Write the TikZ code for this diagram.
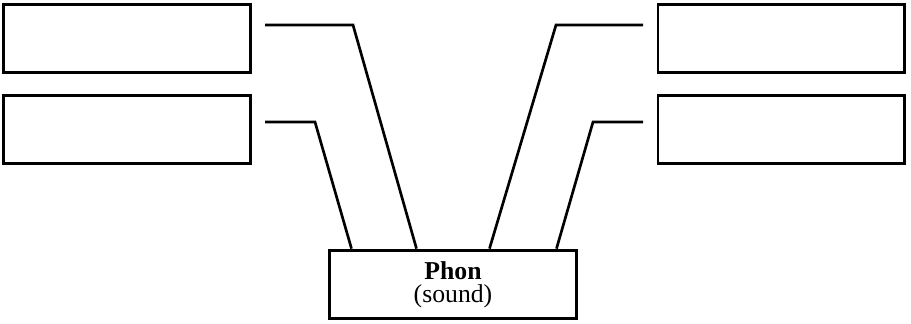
\documentclass[tikz,border=0pt]{standalone}
\usepackage{fontspec}
\setmainfont{Liberation Serif}
\usetikzlibrary{calc}
\begin{document}
\begin{tikzpicture}[x=0.025cm,y=-0.025cm,
    box/.style={draw,line width=2.1pt,minimum width=6.15cm,minimum height=1.72cm,inner sep=0pt},
    wire/.style={line width=1.9pt}]
    \useasboundingbox (0,0) rectangle (911,323);
    \node[box] (left1) at (127,38.5) {};
    \node[box] (left2) at (127,129.5) {};
    \node[box] (right1) at (781,38.5) {};
    \node[box] (right2) at (781,129.5) {};
    \node[box,align=center,font=\fontsize{18.3}{16.5}\selectfont] (phon) at (453,284.5) {\textbf{Phon}\\(sound)};
    \draw[wire] (265,25) coordinate (l1) -- (353,25) -- ($(phon.north west)+(88,0)$);
    \draw[wire] (265,122) coordinate (l2) -- (315,122) -- ($(phon.north west)+(23,0)$);
    \draw[wire] (643,25) coordinate (r1) -- (556,25) -- ($(phon.north west)+(161,0)$);
    \draw[wire] (643,122) coordinate (r2) -- (593,122) -- ($(phon.north west)+(228,0)$);
\end{tikzpicture}
\end{document}
